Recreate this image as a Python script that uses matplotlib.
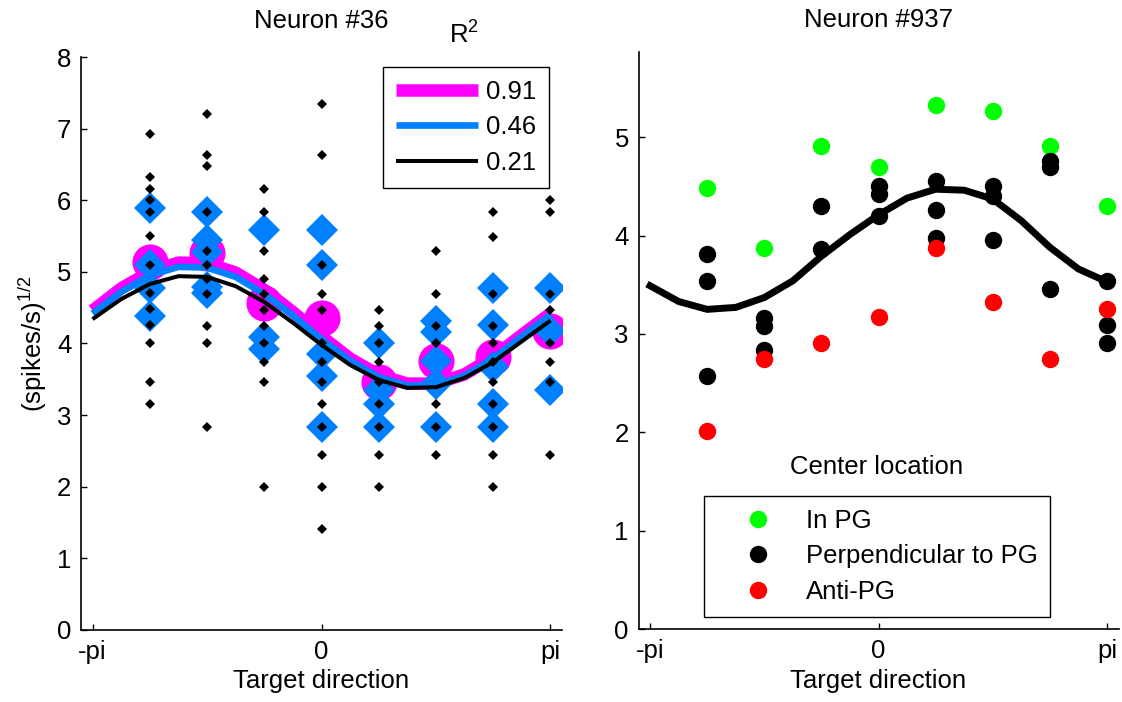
import numpy as np
import matplotlib
matplotlib.use('Agg')
import matplotlib.pyplot as plt

plt.rcParams['font.family'] = ['Liberation Sans', 'DejaVu Sans']
plt.rcParams['mathtext.default'] = 'regular'
plt.rcParams['font.size'] = 18.5

pi = np.pi
directions = [-3*pi/4, -pi/2, -pi/4, 0, pi/4, pi/2, 3*pi/4, pi]
curve_x = np.linspace(-pi, pi, 17)

# ---- Neuron #36: single trials (sqrt of rate), one list per direction
trials_36 = [
    [6.92, 6.33, 6.16, 6.00, 5.83, 5.50, 5.10, 4.71, 4.48, 4.26, 4.00, 3.46, 3.16],
    [7.21, 6.63, 6.48, 5.83, 5.29, 5.10, 4.90, 4.69, 4.24, 4.00, 2.83],
    [6.16, 5.83, 5.29, 4.90, 4.69, 4.47, 4.24, 4.00, 3.74, 3.46, 2.00],
    [7.35, 6.63, 5.10, 4.69, 4.47, 4.00, 3.74, 3.46, 3.16, 2.83, 2.45, 2.00, 1.41],
    [4.47, 4.24, 4.00, 3.74, 3.46, 3.16, 2.83, 2.45, 2.00],
    [5.29, 4.69, 4.24, 4.00, 3.16, 2.83, 2.45],
    [5.83, 5.48, 4.69, 4.24, 4.00, 3.74, 3.46, 3.16, 2.83, 2.45, 2.00],
    [6.00, 5.83, 4.69, 4.47, 4.00, 3.74, 3.46, 2.45],
]
blue_36 = [
    [5.89, 5.10, 4.77, 4.39],
    [5.83, 5.44, 5.28, 4.79, 4.70],
    [5.59, 4.09, 3.93],
    [5.59, 5.10, 3.85, 3.55, 2.83],
    [4.00, 3.35, 3.16, 2.83],
    [4.32, 4.16, 3.76, 3.44, 2.83],
    [4.77, 4.26, 3.67, 3.16, 2.83],
    [4.77, 4.17, 3.35],
]
means_36 = [5.14, 5.27, 4.56, 4.35, 3.46, 3.76, 3.81, 4.18]

fit_magenta = [4.46, 4.77, 5.00, 5.13, 5.12, 4.99, 4.75, 4.44, 4.10,
               3.79, 3.56, 3.44, 3.44, 3.57, 3.81, 4.12, 4.42]
fit_blue = [4.42, 4.72, 4.95, 5.07, 5.06, 4.93, 4.69, 4.39, 4.06,
            3.76, 3.53, 3.41, 3.42, 3.55, 3.79, 4.10, 4.40]
fit_black = [4.34, 4.62, 4.83, 4.94, 4.93, 4.80, 4.58, 4.29, 3.98,
             3.70, 3.49, 3.38, 3.39, 3.52, 3.74, 4.03, 4.32]
r2_labels = ['0.91', '0.46', '0.21']

# ---- Neuron #937
in_pg = [4.48, 3.87, 4.91, 4.70, 5.33, 5.26, 4.91, 4.30]
perp_pg = [
    [3.81, 3.54, 2.57],
    [3.16, 3.08, 2.84],
    [4.30, 3.86],
    [4.50, 4.42, 4.20],
    [4.55, 4.26, 3.97],
    [4.50, 4.40, 3.95],
    [4.76, 4.70, 3.46],
    [3.54, 3.09, 2.91],
]
anti_pg = [2.02, 2.75, 2.91, 3.17, 3.87, 3.32, 2.75, 3.25]
fit_937 = [3.49, 3.33, 3.25, 3.27, 3.37, 3.54, 3.79, 4.01, 4.21,
           4.38, 4.47, 4.46, 4.37, 4.15, 3.88, 3.66, 3.53]


def flat(groups):
    xs = np.repeat(directions, [len(g) for g in groups])
    ys = np.concatenate([np.asarray(g, float) for g in groups])
    return xs, ys


def style(ax):
    ax.spines['top'].set_visible(False)
    ax.spines['right'].set_visible(False)
    for s in ['left', 'bottom']:
        ax.spines[s].set_linewidth(1.2)
    ax.tick_params(direction='in', length=4, width=1, pad=7, labelsize=18.5)
    ax.set_xlim(-3.3, 3.3)
    ax.set_xticks([-pi, 0, pi])
    ax.set_xticklabels(['-pi', '0', 'pi'])
    ax.set_xlabel('Target direction', labelpad=4)


fig = plt.figure(figsize=(11.22, 7.02), dpi=100)
ax1 = fig.add_axes([0.0722, 0.1026, 0.4287, 0.8162])
ax2 = fig.add_axes([0.5691, 0.1033, 0.4278, 0.8222])

# left panel
ax1.plot(directions, means_36, 'o', color='#ff00ff', ms=26, mew=0, zorder=1)
l1, = ax1.plot(curve_x, fit_magenta, color='#ff00ff', lw=9, zorder=2,
               solid_capstyle='butt')
bx, by = flat(blue_36)
ax1.plot(bx, by, 'D', color='#0080ff', ms=16, mew=0, zorder=3)
l2, = ax1.plot(curve_x, fit_blue, color='#0080ff', lw=4.8, zorder=4,
               solid_capstyle='butt')
l3, = ax1.plot(curve_x, fit_black, color='black', lw=2.9, zorder=5,
               solid_capstyle='butt')
tx, ty = flat(trials_36)
ax1.plot(tx, ty, 'D', color='black', ms=5.5, mew=0, zorder=6)

style(ax1)
ax1.set_ylim(0, 8)
ax1.set_yticks(range(0, 9))
ax1.set_ylabel('(spikes/s)$^{1/2}$', labelpad=6)
ax1.set_title('Neuron #36', fontsize=18.5, pad=21)
leg1 = ax1.legend([l1, l2, l3], r2_labels, loc='upper left',
                  bbox_to_anchor=(0.6285, 0.983), borderaxespad=0,
                  fancybox=False, edgecolor='black', framealpha=1,
                  handlelength=3.2, handletextpad=0.3, borderpad=0.5,
                  labelspacing=0.45, fontsize=18.5)
leg1.get_frame().set_linewidth(1.0)
ax1.text(0.796, 1.038, 'R$^{2}$', transform=ax1.transAxes,
         ha='center', va='center', fontsize=18.5)

# right panel
ax2.plot(curve_x, fit_937, color='black', lw=5, zorder=2)
g, = ax2.plot(directions, in_pg, 'o', color='#00ff00', ms=11.5, zorder=3)
px, py = flat(perp_pg)
k, = ax2.plot(px, py, 'o', color='black', ms=11.5, zorder=3)
r, = ax2.plot(directions, anti_pg, 'o', color='#ff0000', ms=11.5, zorder=3)

style(ax2)
ax2.set_ylim(0, 5.86)
ax2.set_yticks(range(0, 6))
ax2.set_title('Neuron #937', fontsize=18.5, pad=18)
leg2 = ax2.legend([g, k, r], ['In PG', 'Perpendicular to PG', 'Anti-PG'],
                  loc='lower left', bbox_to_anchor=(0.1365, 0.0218),
                  borderaxespad=0, fancybox=False, edgecolor='black',
                  framealpha=1, handlelength=3.2, handletextpad=0.25,
                  borderpad=0.5, labelspacing=0.45, fontsize=18.5)
leg2.get_frame().set_linewidth(1.0)
ax2.text(0.495, 0.281, 'Center location', transform=ax2.transAxes,
         ha='center', va='center', fontsize=18.5)

fig.savefig('out.png', dpi=100)
